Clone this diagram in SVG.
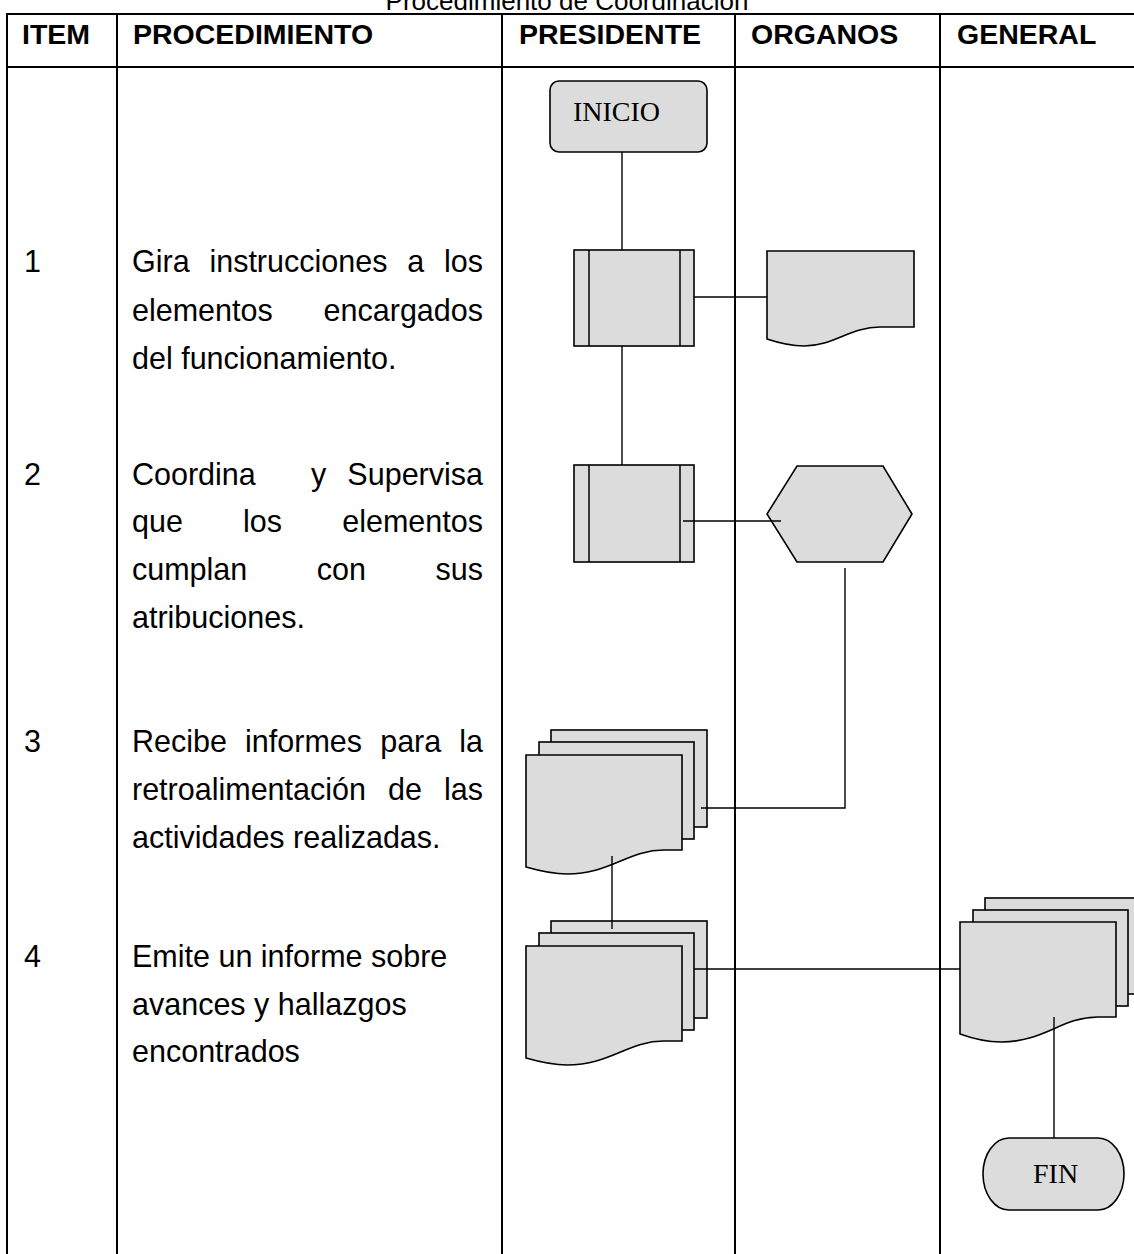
<svg xmlns="http://www.w3.org/2000/svg" width="1134" height="1254" viewBox="0 0 1134 1254">
<style>
.grid{stroke:#000;stroke-width:2;fill:none}
.hdr{font-family:"Liberation Sans",Arial,sans-serif;font-weight:bold;font-size:28.5px;fill:#000}
.txt{font-family:"Liberation Sans",Arial,sans-serif;font-size:30.5px;fill:#000}
.ttl{font-family:"Liberation Sans",Arial,sans-serif;font-size:26px;fill:#000}
.lbl{font-family:"Liberation Serif","Times New Roman",serif;font-size:28px;fill:#000}
.shp{fill:#dcdcdc;stroke:#000;stroke-width:1.6}
.ln{stroke:#000;stroke-width:1.5;fill:none}
.con{stroke:#000;stroke-width:1.4;fill:none}
</style>
<rect width="1134" height="1254" fill="#fff"/>
<text class="ttl" x="567" y="10" text-anchor="middle">Procedimiento de Coordinación</text>
<g id="table">
<line class="grid" x1="7" y1="14" x2="1134" y2="14"/>
<line class="grid" x1="7" y1="67" x2="1134" y2="67"/>
<line class="grid" x1="7" y1="13" x2="7" y2="1254"/>
<line class="grid" x1="117" y1="13" x2="117" y2="1254"/>
<line class="grid" x1="502" y1="13" x2="502" y2="1254"/>
<line class="grid" x1="735" y1="13" x2="735" y2="1254"/>
<line class="grid" x1="940" y1="13" x2="940" y2="1254"/>
<text class="hdr" x="22" y="44">ITEM</text>
<text class="hdr" x="133" y="44">PROCEDIMIENTO</text>
<text class="hdr" x="519" y="44">PRESIDENTE</text>
<text class="hdr" x="751" y="44">ORGANOS</text>
<text class="hdr" x="957" y="44">GENERAL</text>
</g>
<g id="item1">
<text class="txt" x="24" y="272">1</text>
<text class="txt" y="272"><tspan x="132">Gira</tspan><tspan x="209.4">instrucciones</tspan><tspan x="407.2">a</tspan></text>
<text class="txt" x="483" y="272" text-anchor="end">los</text>
<text class="txt" x="132" y="321">elementos</text>
<text class="txt" x="483" y="321" text-anchor="end">encargados</text>
<text class="txt" x="132" y="369">del funcionamiento.</text>
</g>
<g id="item2">
<text class="txt" x="24" y="485">2</text>
<text class="txt" y="485"><tspan x="132">Coordina</tspan><tspan x="311">y</tspan></text>
<text class="txt" x="483" y="485" text-anchor="end">Supervisa</text>
<text class="txt" y="532"><tspan x="132">que</tspan><tspan x="243.1">los</tspan></text>
<text class="txt" x="483" y="532" text-anchor="end">elementos</text>
<text class="txt" y="580"><tspan x="132">cumplan</tspan><tspan x="316.8">con</tspan></text>
<text class="txt" x="483" y="580" text-anchor="end">sus</text>
<text class="txt" x="132" y="628">atribuciones.</text>
</g>
<g id="item3">
<text class="txt" x="24" y="752">3</text>
<text class="txt" y="752"><tspan x="132">Recibe</tspan><tspan x="245.1">informes</tspan><tspan x="380.2">para</tspan></text>
<text class="txt" x="483" y="752" text-anchor="end">la</text>
<text class="txt" y="800"><tspan x="132">retroalimentación</tspan><tspan x="388">de</tspan></text>
<text class="txt" x="483" y="800" text-anchor="end">las</text>
<text class="txt" x="132" y="848">actividades realizadas.</text>
</g>
<g id="item4">
<text class="txt" x="24" y="967">4</text>
<text class="txt" x="132" y="967">Emite un informe sobre</text>
<text class="txt" x="132" y="1015">avances y hallazgos</text>
<text class="txt" x="132" y="1062">encontrados</text>
</g>
<g id="inicio">
<rect class="shp" x="550" y="81" width="157" height="71" rx="9"/>
<text class="lbl" x="573" y="121">INICIO</text>
</g>
<g id="proceso1">
<rect class="shp" x="574" y="250" width="120" height="96"/>
<line class="ln" x1="589" y1="250" x2="589" y2="346"/>
<line class="ln" x1="680" y1="250" x2="680" y2="346"/>
</g>
<g id="documento1">
<path class="shp" d="M767,251 H914 V327 H880 C850,327 834,346 804,346 C791,346 779,343 767,339 Z"/>
</g>
<g id="proceso2">
<rect class="shp" x="574" y="465" width="120" height="97"/>
<line class="ln" x1="589" y1="465" x2="589" y2="562"/>
<line class="ln" x1="680" y1="465" x2="680" y2="562"/>
</g>
<g id="preparacion">
<polygon class="shp" points="797,466 883,466 912,514 883,562 797,562 767,514"/>
</g>
<g id="documentos3">
<rect class="shp" x="551" y="730" width="156" height="97"/>
<rect class="shp" x="539" y="742" width="155" height="97"/>
<path class="shp" d="M526,755 H682 V850 H664 C628,850 610,874 567,874 C552,874 540,871 526,867 Z"/>
</g>
<g id="documentos4">
<rect class="shp" x="551" y="921" width="156" height="97"/>
<rect class="shp" x="539" y="933" width="155" height="97"/>
<path class="shp" d="M526,946 H682 V1041 H664 C628,1041 610,1065 567,1065 C552,1065 540,1062 526,1058 Z"/>
</g>
<g id="documentosGeneral">
<rect class="shp" x="985" y="898" width="156" height="96"/>
<rect class="shp" x="973" y="910" width="155" height="96"/>
<path class="shp" d="M960,922 H1116 V1017 H1098 C1062,1017 1044,1042 1001,1042 C986,1042 974,1039 960,1034 Z"/>
</g>
<g id="fin">
<rect class="shp" x="983" y="1138" width="141" height="72" rx="26" ry="36"/>
<text class="lbl" x="1033" y="1183">FIN</text>
</g>
<g id="connectors">
<line class="con" x1="622" y1="152" x2="622" y2="250"/>
<line class="con" x1="694" y1="297" x2="767" y2="297"/>
<line class="con" x1="622" y1="346" x2="622" y2="465"/>
<line class="con" x1="683" y1="521" x2="781" y2="521"/>
<polyline class="con" points="845,568 845,808 701,808"/>
<line class="con" x1="612" y1="856" x2="612" y2="929"/>
<line class="con" x1="694" y1="969" x2="960" y2="969"/>
<line class="con" x1="1054" y1="1017" x2="1054" y2="1138"/>
</g>
</svg>
